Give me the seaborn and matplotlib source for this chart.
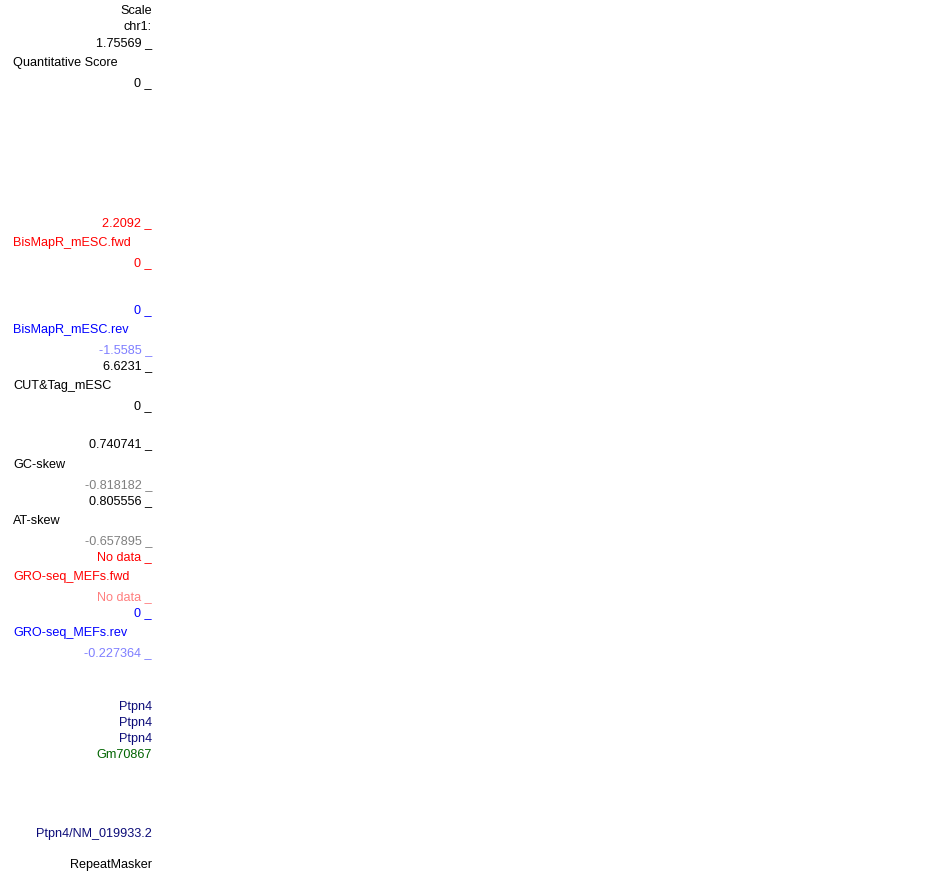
import matplotlib
matplotlib.use("Agg")
import matplotlib.pyplot as plt
import seaborn as sns

# Right-aligned labels (scale values / gene names)
right_labels = [
    "Scale", "chr1:", "1.75569 _", "0 _",
    "2.2092 _", "0 _",
    "0 _", "-1.5585 _",
    "6.6231 _", "0 _",
    "0.740741 _", "-0.818182 _",
    "0.805556 _", "-0.657895 _",
    "No data _", "No data _",
    "0 _", "-0.227364 _",
    "Ptpn4", "Ptpn4", "Ptpn4", "Gm70867",
    "Ptpn4/NM_019933.2", "RepeatMasker",
]
right_colors = [
    "black", "black", "black", "black",
    "#ff0000", "#ff0000",
    "#0000ff", "#7f7fff",
    "black", "black",
    "black", "#808080",
    "black", "#808080",
    "#ff0000", "#ff7f7f",
    "#0000ff", "#7f7fff",
    "#0c0c78", "#0c0c78", "#0c0c78", "#006400",
    "#0c0c78", "black",
]

# Left-aligned track names
track_names = [
    "Quantitative Score", "BisMapR_mESC.fwd", "BisMapR_mESC.rev",
    "CUT&Tag_mESC", "GC-skew", "AT-skew",
    "GRO-seq_MEFs.fwd", "GRO-seq_MEFs.rev",
]
track_colors = [
    "black", "#ff0000", "#0000ff",
    "black", "black", "black",
    "#ff0000", "#0000ff",
]

# layout (pixel rows)
right_y = [10, 26, 42, 82, 222, 262, 309, 349, 365, 405, 443, 484,
           500, 540, 556, 596, 612, 652, 706, 722, 738, 754, 833, 864]
track_y = [62, 242, 329, 385, 464, 520, 576, 632]

sns.set_theme(style="white")
plt.rcParams['font.family'] = ['Liberation Sans', 'DejaVu Sans']

fig = plt.figure(figsize=(9.5, 8.73), dpi=100)
ax = fig.add_axes([0, 0, 1, 1])
ax.set_xlim(0, 950)
ax.set_ylim(873, 0)
ax.axis("off")

fs = 9.1
for lab, col, y in zip(right_labels, right_colors, right_y):
    ax.text(152, y + 1, lab, color=col, fontsize=fs, ha="right", va="center")

for lab, col, y in zip(track_names, track_colors, track_y):
    ax.text(13, y + 1, lab, color=col, fontsize=fs, ha="left", va="center")

fig.savefig("out.png", dpi=100, facecolor="white")
